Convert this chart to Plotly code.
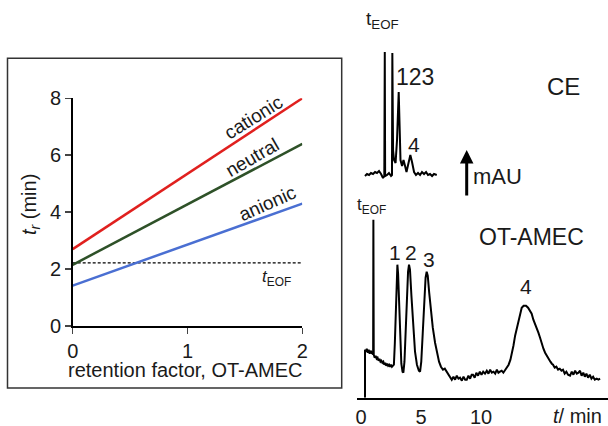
import plotly.graph_objects as go

# ---------------- data ----------------
# left panel: retention time vs retention factor
k_factor = [0, 2]
t_cationic = [2.70, 8.00]
t_neutral = [2.15, 6.40]
t_anionic = [1.42, 4.30]
t_eof = [2.22, 2.22]
left_xticks = [0, 1, 2]
left_yticks = [0, 2, 4, 6, 8]

# right panel: OT-AMEC electropherogram (time in min, signal in mAU)
ot_time = [
    0.33, 0.33, 0.40, 0.48, 0.56, 0.64, 0.72, 0.80, 0.88, 0.96,
    1.01, 1.03, 1.06, 1.14, 1.22, 1.30, 1.38, 1.46, 1.54, 1.62,
    1.70, 1.78, 1.86, 1.94, 2.02, 2.10, 2.18, 2.26, 2.34, 2.42,
    2.50, 2.58, 2.66, 2.74, 2.82, 2.90, 2.97, 3.03, 3.09, 3.17,
    3.26, 3.36, 3.46, 3.53, 3.62, 3.72, 3.82, 3.92, 4.00, 4.08,
    4.20, 4.34, 4.50, 4.66, 4.82, 4.92, 5.02, 5.14, 5.26, 5.38,
    5.47, 5.56, 5.68, 5.82, 5.98, 6.17, 6.34, 6.50, 6.66, 6.83,
    6.98, 7.14, 7.28, 7.42, 7.56, 7.70, 7.84, 7.98, 8.12, 8.25,
    8.40, 8.54, 8.68, 8.81, 8.95, 9.09, 9.22, 9.33, 9.47, 9.61,
    9.75, 9.90, 10.04, 10.18, 10.33, 10.48, 10.62, 10.76, 10.90, 11.04,
    11.18, 11.32, 11.45, 11.58, 11.72, 11.86, 12.00, 12.14, 12.30, 12.45,
    12.56, 12.70, 12.84, 12.98, 13.12, 13.26, 13.39, 13.55, 13.75, 13.92,
    14.08, 14.22, 14.36, 14.50, 14.64, 14.78, 14.92, 15.06, 15.20, 15.34,
    15.47, 15.62, 15.78, 15.90, 16.00, 16.14, 16.28, 16.42, 16.56, 16.70,
    16.83, 16.97, 17.11, 17.25, 17.42, 17.56, 17.70, 17.84, 17.98, 18.12,
    18.25, 18.38, 18.52, 18.65, 18.78, 18.92, 19.06, 19.20, 19.34, 19.48,
    19.64, 19.78, 19.92,
]
ot_signal = [
    0.0, 4.8, 4.6, 4.9, 4.5, 4.8, 4.4, 4.7, 4.5, 4.6,
    4.3, 17.8, 4.3, 4.0, 4.2, 3.9, 4.0, 3.7, 3.9, 3.6,
    3.7, 3.5, 3.6, 3.3, 3.5, 3.2, 3.4, 3.2, 3.3, 3.1,
    3.3, 3.1, 3.2, 3.3, 5.5, 9.5, 12.5, 13.3, 12.4, 9.0,
    5.6, 3.4, 2.6, 2.5, 3.6, 6.8, 10.2, 12.6, 13.3, 12.8,
    10.2, 7.0, 4.6, 3.3, 2.7, 2.6, 3.6, 6.4, 9.6, 12.0,
    12.6, 12.2, 10.5, 8.6, 7.0, 5.5, 4.4, 3.6, 3.1, 2.8,
    2.9, 2.6, 2.3, 2.0, 1.8, 2.1, 1.8, 2.2, 1.9, 2.0,
    1.7, 2.1, 1.8, 1.8, 2.2, 1.9, 2.3, 2.3, 2.0, 2.5,
    2.2, 2.6, 2.3, 2.6, 2.4, 2.7, 2.4, 2.8, 2.5, 2.6,
    2.4, 2.8, 2.5, 2.6, 2.7, 2.5, 2.8, 3.0, 3.3, 3.8,
    4.3, 5.2, 6.2, 7.0, 7.8, 8.5, 9.0, 9.2, 9.2, 9.0,
    8.7, 8.4, 7.8, 7.4, 6.9, 6.5, 6.0, 5.4, 4.9, 4.5,
    4.2, 3.9, 3.6, 3.4, 3.3, 3.0, 3.1, 2.8, 2.9, 2.7,
    2.8, 2.4, 2.6, 2.3, 2.2, 2.6, 2.3, 2.7, 2.4, 2.5,
    2.7, 2.2, 2.5, 2.1, 2.4, 2.0, 2.3, 1.9, 2.1, 1.8,
    1.9, 1.8, 1.9,
]

# CE electropherogram (same time scale)
ce_time = [
    0.33, 0.50, 0.67, 0.83, 1.00, 1.17, 1.33, 1.50, 1.67, 1.83,
    1.94, 1.98, 2.01, 2.17, 2.33, 2.50, 2.58, 2.61, 2.67, 2.75,
    2.88, 3.00, 3.14, 3.22, 3.29, 3.42, 3.54, 3.67, 3.79, 3.92,
    4.11, 4.25, 4.42, 4.58, 4.75, 4.92, 5.08, 5.25, 5.42, 5.58,
    5.75, 5.92, 6.08, 6.31,
]
ce_signal = [
    0.4, 0.6, 0.5, 0.7, 0.6, 0.8, 0.7, 0.9, 0.6, 0.2,
    0.4, 12.8, 0.4, 0.5, 0.7, 0.4, 0.5, 12.7, 3.0, 2.0,
    1.7, 4.0, 8.8, 4.0, 2.0, 1.4, 2.0, 1.4, 0.8, 1.5,
    2.5, 1.8, 0.8, 0.5, 0.7, 0.5, 0.8, 0.6, 0.8, 0.5,
    0.6, 0.4, 0.6, 0.5,
]
ot_xticks = [0, 5, 10]

# ---------------- figure ----------------
W, H = 608, 426
FONT = "Liberation Sans, Arial, sans-serif"


def px(x):
    return x / W


def py(y):
    return 1 - y / H


fig = go.Figure()

fig.add_trace(go.Scatter(x=k_factor, y=t_eof, mode="lines",
                         line=dict(color="black", width=1.2, dash="3px,2px"),
                         xaxis="x", yaxis="y", showlegend=False))
fig.add_trace(go.Scatter(x=k_factor, y=t_anionic, mode="lines",
                         line=dict(color="#4a6fd2", width=2.5),
                         xaxis="x", yaxis="y", showlegend=False))
fig.add_trace(go.Scatter(x=k_factor, y=t_neutral, mode="lines",
                         line=dict(color="#2e5128", width=2.5),
                         xaxis="x", yaxis="y", showlegend=False))
fig.add_trace(go.Scatter(x=k_factor, y=t_cationic, mode="lines",
                         line=dict(color="#e0201e", width=2.5),
                         xaxis="x", yaxis="y", showlegend=False))

fig.add_trace(go.Scatter(x=ot_time, y=ot_signal, mode="lines",
                         line=dict(color="black", width=2),
                         xaxis="x2", yaxis="y2", showlegend=False))
fig.add_trace(go.Scatter(x=ce_time, y=ce_signal, mode="lines",
                         line=dict(color="black", width=2),
                         xaxis="x2", yaxis="y3", showlegend=False))

axis_common = dict(showgrid=False, zeroline=False, showline=True,
                   linecolor="black", fixedrange=True, automargin=False,
                   tickfont=dict(family=FONT, size=20, color="#1a1a1a"))

fig.update_layout(
    width=W, height=H,
    margin=dict(l=0, r=0, t=0, b=0),
    paper_bgcolor="white", plot_bgcolor="white",
    font=dict(family=FONT, color="#1a1a1a"),
    xaxis=dict(domain=[px(72.7), px(302.3)], range=[0, 2], anchor="y",
               tickvals=left_xticks, ticks="outside", ticklen=6, tickwidth=1.5,
               linewidth=1.5, **axis_common),
    yaxis=dict(domain=[py(326), py(98.3)], range=[0, 8], anchor="x",
               tickvals=left_yticks, ticks="outside", ticklen=6, tickwidth=1.5,
               linewidth=1.5, **axis_common),
    xaxis2=dict(domain=[px(356.7), 1.0], range=[-0.36, 20.58], anchor="y2",
                tickvals=ot_xticks, ticks="", linewidth=2.5, **axis_common),
    yaxis2=dict(domain=[py(397.7), py(209.7)], range=[0, 18.8], anchor="x2",
                visible=False, fixedrange=True, automargin=False),
    yaxis3=dict(domain=[py(180), py(50)], range=[0, 13], anchor="x2",
                visible=False, fixedrange=True, automargin=False),
)

# frame around left panel
fig.add_shape(type="rect", xref="paper", yref="paper",
              x0=px(7.5), x1=px(341.7), y0=py(388), y1=py(58.3),
              line=dict(color="#333333", width=1.5))

ann = []
# axis titles, left panel
ann.append(dict(text="retention factor, OT-AMEC", x=px(185), y=py(370),
                font=dict(size=20)))
ann.append(dict(text="<i>t</i><sub><i>r</i></sub> (min)", x=px(31), y=py(205),
                textangle=-90, font=dict(size=20)))
# line labels
ann.append(dict(text="cationic", x=px(253), y=py(117), textangle=-32, font=dict(size=19)))
ann.append(dict(text="neutral", x=px(252), y=py(157), textangle=-30, font=dict(size=19)))
ann.append(dict(text="anionic", x=px(267), y=py(203), textangle=-24, font=dict(size=19)))
ann.append(dict(text="<i>t</i><sub>EOF</sub>", x=px(276), y=py(278), font=dict(size=17)))

# right panel labels
ann.append(dict(text="t<sub>EOF</sub>", x=px(382), y=py(20), font=dict(size=19)))
ann.append(dict(text="123", x=px(415), y=py(77), font=dict(size=23)))
ann.append(dict(text="4", x=px(414), y=py(144), font=dict(size=21)))
ann.append(dict(text="CE", x=px(563), y=py(86), font=dict(size=24)))
ann.append(dict(text="mAU", x=px(497), y=py(176), font=dict(size=22)))
ann.append(dict(text="OT-AMEC", x=px(531), y=py(237), font=dict(size=23)))
ann.append(dict(text="t<sub>EOF</sub>", x=px(371), y=py(206), font=dict(size=17)))
ann.append(dict(text="1", x=px(394.5), y=py(252), font=dict(size=21)))
ann.append(dict(text="2", x=px(410.5), y=py(252), font=dict(size=21)))
ann.append(dict(text="3", x=px(428.5), y=py(259), font=dict(size=21)))
ann.append(dict(text="4", x=px(526), y=py(286), font=dict(size=21)))
ann.append(dict(text="<i>t</i>/ min", x=px(577), y=py(416), font=dict(size=20)))

for a in ann:
    a.update(xref="paper", yref="paper", showarrow=False,
             xanchor="center", yanchor="middle")
    fig.add_annotation(**a)

# mAU arrow
fig.add_annotation(xref="paper", yref="paper", axref="pixel", ayref="pixel",
                   x=px(466.7), y=py(150), ax=0, ay=47,
                   showarrow=True, arrowhead=2, arrowsize=0.9, arrowwidth=3,
                   arrowcolor="black", text="")

fig.write_html("out.html",
               config={"displayModeBar": False, "staticPlot": True},
               post_script="document.body.style.margin='0';"
                           "document.body.style.overflow='hidden';")
